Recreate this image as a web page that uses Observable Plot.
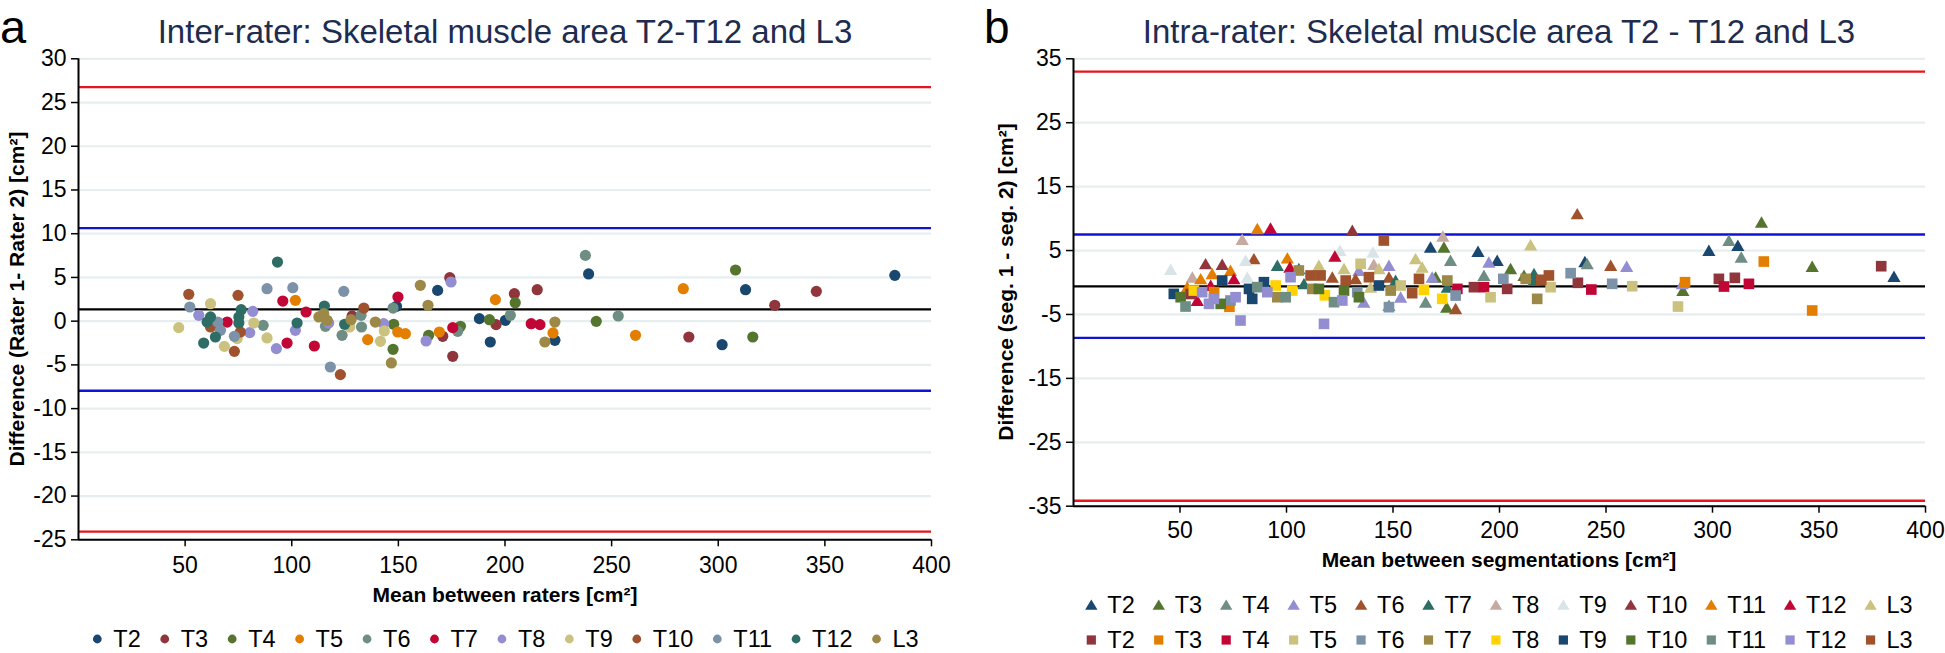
<!DOCTYPE html>
<html><head><meta charset="utf-8">
<script src="https://cdn.jsdelivr.net/npm/d3@7"></script>
<script src="https://cdn.jsdelivr.net/npm/@observablehq/plot@0.6"></script>
<style>
body{margin:0;background:#fff;}
#root{position:relative;width:1945px;height:653px;overflow:hidden;font-family:"Liberation Sans",Arial,Helvetica,sans-serif;}
#root > svg{position:absolute;}
</style></head><body><div id="root"></div>
<script>
// ---------- categories ----------
const levels = ["T2","T3","T4","T5","T6","T7","T8","T9","T10","T11","T12","L3"];
const circleColors   = ["#1a476f","#90353b","#55752f","#e37e00","#6e8e84","#c10534","#938dd2","#cac27e","#a0522d","#7b92a8","#2d6d66","#9c8847"];
const triangleColors = ["#1a476f","#55752f","#6e8e84","#938dd2","#a0522d","#2d6d66","#c6aaa2","#d9e4e9","#90353b","#e37e00","#c10534","#cac27e"];
const squareColors   = ["#90353b","#e37e00","#c10534","#cac27e","#7b92a8","#9c8847","#ffd200","#1a476f","#55752f","#6e8e84","#938dd2","#a0522d"];

// ---------- panel a: inter-rater (mean, difference) ----------
const interT2  = [[149.1,1.7],[168.4,3.52],[188.0,0.29],[193.1,-2.38],[200.2,0.1],[223.4,-2.19],[239.2,5.4],[301.8,-2.69],[312.8,3.6],[382.8,5.24]];
const interT3  = [[128.3,0.6],[170.8,-1.73],[174.1,4.97],[175.5,-4.02],[195.8,-0.4],[204.4,3.14],[215.1,3.6],[286.2,-1.81],[326.5,1.81],[346.0,3.41]];
const interT4  = [[147.8,-0.36],[147.5,-3.22],[164.2,-1.62],[179.1,-0.59],[192.7,0.17],[204.8,2.11],[242.8,-0.02],[308.1,5.85],[316.2,-1.81]];
const interT5  = [[101.7,2.38],[135.6,-2.11],[149.7,-1.24],[153.3,-1.43],[169.2,-1.24],[195.5,2.46],[222.5,-1.35],[261.2,-1.62],[283.6,3.71]];
const interT6  = [[86.6,-0.48],[115.8,-0.59],[123.6,-1.62],[132.5,0.67],[132.7,-0.67],[147.5,1.5],[177.8,-1.16],[202.5,0.67],[237.7,7.52],[253.1,0.59]];
const interT7  = [[69.7,-0.1],[95.8,2.3],[97.8,-2.5],[106.7,1.05],[110.6,-2.84],[149.8,2.76],[175.5,-0.74],[212.3,-0.29],[216.4,-0.4]];
const interT8  = [[56.4,0.67],[80.3,-1.31],[81.7,1.12],[92.8,-3.14],[101.7,-1.05],[117.3,-0.21],[143.1,-0.29],[163.0,-2.27],[174.7,4.48]];
const interT9  = [[47.0,-0.74],[61.9,2.0],[68.4,-2.88],[74.4,-2.0],[82.2,-0.21],[88.4,-1.92],[127.2,-0.67],[141.6,-2.3],[143.4,-1.12]];
const interT10 = [[51.7,3.07],[61.9,-0.67],[73.1,-3.45],[74.8,2.95],[75.9,-1.24],[122.8,-6.11],[133.8,1.5]];
const interT11 = [[52.2,1.62],[65.3,-0.1],[66.6,-1.05],[73.1,-1.73],[88.4,3.71],[100.5,3.83],[118.1,-5.24],[124.4,3.41]];
const interT12 = [[58.7,-2.5],[60.3,-0.1],[61.9,0.48],[64.2,-1.81],[75.2,0.48],[75.2,-0.21],[76.3,1.31],[93.3,6.76],[102.5,-0.21],[115.3,1.73],[124.8,-0.36]];
const interL3  = [[112.7,0.48],[115.0,0.86],[116.6,0.1],[127.8,0.17],[139.2,-0.1],[146.7,-4.78],[160.3,4.1],[163.9,1.81],[218.7,-2.38],[223.4,-0.1]];
const interSeries = [interT2,interT3,interT4,interT5,interT6,interT7,interT8,interT9,interT10,interT11,interT12,interL3];
const interBias = 1.34, interLoA = [10.64, -7.95], interOuter = [26.76, -24.07];
const interYTicks = [30,25,20,15,10,5,0,-5,-10,-15,-20,-25];

// ---------- panel b: intra-rater, triangles ----------
const triT2  = [[167.6,5.27],[189.9,4.59],[198.9,3.18],[240.1,3.0],[298.3,4.74],[311.9,5.53],[385.2,0.68]];
const triT3  = [[170.0,0.57],[173.9,5.27],[175.2,-4.12],[205.2,1.88],[211.5,0.83],[286.1,-1.51],[323.0,9.18],[346.8,2.24]];
const triT4  = [[148.1,-3.86],[165.3,-3.34],[177.0,3.18],[192.7,0.83],[241.2,2.66],[307.7,6.31],[313.5,3.7]];
const triT5  = [[134.0,1.62],[136.3,-3.34],[148.1,2.4],[153.6,-2.56],[168.4,0.57],[195.0,2.92],[259.7,2.24],[285.8,-0.47]];
const triT6  = [[84.7,3.44],[121.5,0.57],[132.4,0.31],[148.1,0.57],[179.4,-4.38],[236.5,10.48],[252.2,2.4]];
const triT7  = [[95.7,2.4],[105.8,1.88],[108.2,-0.47],[151.2,0.05],[175.5,-1.0],[216.2,1.1],[216.2,0.05]];
const triT8  = [[55.8,0.57],[79.2,6.47],[141.0,2.55],[173.4,6.99]];
const triT9  = [[45.6,1.77],[80.8,3.18],[81.6,0.57],[125.1,4.74],[140.6,4.48]];
const triT10 = [[62.0,2.66],[69.8,2.55],[130.9,7.87]];
const triT11 = [[53.4,-1.0],[59.7,0.31],[65.1,1.1],[73.7,1.62],[86.3,8.14],[100.4,3.55]];
const triT12 = [[58.1,-3.08],[64.4,-0.73],[75.3,0.31],[92.5,8.24],[101.6,2.14],[122.7,3.86]];
const triL3  = [[115.2,2.4],[127.0,1.88],[139.5,-1.0],[143.4,1.88],[160.6,3.44],[163.7,2.14],[214.6,5.6]];
const triSeries = [triT2,triT3,triT4,triT5,triT6,triT7,triT8,triT9,triT10,triT11,triT12,triL3];

// ---------- panel b: intra-rater, squares ----------
const sqT2  = [[55,-1.8],[188.0,-0.73],[203.6,-1.0],[236.8,-0.05],[303.0,0.57],[310.5,0.73],[379.2,2.55]];
const sqT3  = [[66,-1.5],[73.2,-3.8],[287.1,0.05],[324.1,3.28],[346.8,-4.38]];
const sqT4  = [[180.2,-1.0],[192.7,-0.73],[243.1,-1.1],[305.4,-0.63],[317.1,-0.21]];
const sqT5  = [[134.8,2.92],[153.6,-0.47],[195.8,-2.3],[224.0,-0.73],[262.3,-0.58],[283.8,-3.76]];
const sqT6  = [[73.7,-2.82],[133.2,-1.51],[148.1,-3.86],[179.4,-2.04],[201.8,0.57],[233.4,1.46],[252.9,-0.21]];
const sqT7  = [[95.7,-2.3],[105.8,1.88],[112.1,-1.0],[148.9,-1.26],[175.5,0.31],[212.3,0.57],[217.7,-2.56]];
const sqT8  = [[56.5,-1.26],[94.9,-0.47],[102.7,-1.26],[118,-2.0],[164.5,-1.15],[173.1,-2.56]];
const sqT9  = [[47.1,-1.78],[69.8,0.31],[82.4,-1.0],[83.9,-2.56],[89.4,0.05],[143.4,-0.47]];
const sqT10 = [[50.3,-2.3],[69.1,-3.34],[115.2,-1.0],[127.0,-1.26],[134.0,-2.3]];
const sqT11 = [[52.6,-3.76],[86.3,-0.73],[99.6,-2.3],[122.3,-3.08]];
const sqT12 = [[60.4,-1.51],[63.6,-3.34],[65.9,-2.56],[76.1,-2.3],[78.4,-5.95],[91.0,-1.51],[101.9,0.83],[117.6,-6.47],[126.2,-2.82]];
const sqL3  = [[111.3,1.1],[116.0,1.1],[127.8,0.31],[138.7,0.83],[145.7,6.57],[159.0,-1.67],[162.2,0.57],[219.6,0.42],[223.2,1.1]];
const sqSeries = [sqT2,sqT3,sqT4,sqT5,sqT6,sqT7,sqT8,sqT9,sqT10,sqT11,sqT12,sqL3];
const intraBias = -0.62, intraLoA = [7.5, -8.66], intraOuter = [33.0, -34.15];
const intraYTicks = [35,25,15,5,-5,-15,-25,-35];

const xTicks = [50,100,150,200,250,300,350,400];
const titleA = "Inter-rater: Skeletal muscle area T2-T12 and L3";
const titleB = "Intra-rater: Skeletal muscle area T2 - T12 and L3";
const yLabelA = "Difference (Rater 1- Rater 2) [cm²]";
const yLabelB = "Difference (seg. 1 - seg. 2) [cm²]";
const xLabelA = "Mean between raters [cm²]";
const xLabelB = "Mean between segmentations [cm²]";

// ---------- drawing ----------
const FONT = '"Liberation Sans", Arial, Helvetica, sans-serif';
const RED = "#e8141c", BLUE = "#1212d6", GRID = "#e7eef0";
const fmt = d => String(d);

function panel({width, height, mt, mb, ml, mr, yDomain, yTicks, bias, loa, outer, tickPadX, dataMarks}) {
  return Plot.plot({
    width, height, marginTop: mt, marginBottom: mb, marginLeft: ml, marginRight: mr,
    style: {fontFamily: FONT, fontSize: "23px", color: "#000", background: "transparent", overflow: "visible"},
    x: {domain: [0, 400]},
    y: {domain: yDomain},
    marks: [
      Plot.gridY(yTicks, {stroke: GRID, strokeOpacity: 1, strokeWidth: 2.2}),
      Plot.ruleY([outer[0]], {stroke: RED, strokeWidth: 2.4}),
      Plot.ruleY([outer[1]], {stroke: RED, strokeWidth: 2.4}),
      Plot.ruleY([loa[0]], {stroke: BLUE, strokeWidth: 2.4}),
      Plot.ruleY([loa[1]], {stroke: BLUE, strokeWidth: 2.4}),
      Plot.ruleY([bias], {stroke: "#000", strokeWidth: 2.2}),
      ...dataMarks,
      Plot.ruleX([0], {stroke: "#000", strokeWidth: 2}),
      Plot.ruleY([yDomain[0]], {stroke: "#000", strokeWidth: 2}),
      Plot.axisY(yTicks, {anchor: "left", tickSize: 7, tickPadding: 5, strokeWidth: 1.5, label: null, fontSize: 23, tickFormat: fmt}),
      Plot.axisX(xTicks, {anchor: "bottom", tickSize: 7, tickPadding: tickPadX, strokeWidth: 1.5, label: null, fontSize: 23, tickFormat: fmt})
    ]
  });
}

const root = document.getElementById("root");

const marksA = interSeries.map((s, i) =>
  Plot.dot(s, {x: d => d[0], y: d => d[1], r: 5.6, fill: circleColors[i], stroke: "none"}));
const svgA = panel({width: 972, height: 580, mt: 58.3, mb: 580 - 539.3, ml: 78, mr: 972 - 931,
  yDomain: [-25, 30], yTicks: interYTicks, bias: interBias, loa: interLoA, outer: interOuter, tickPadX: 10, dataMarks: marksA});
svgA.style.left = "0px"; svgA.style.top = "0px";
root.appendChild(svgA);

const marksB = [
  ...triSeries.map((s, i) => Plot.dot(s, {x: d => d[0], y: d => d[1], r: 4.9, symbol: "triangle", fill: triangleColors[i], stroke: "none"})),
  ...sqSeries.map((s, i) => Plot.dot(s, {x: d => d[0], y: d => d[1], r: 6, symbol: "square", fill: squareColors[i], stroke: "none"}))
];
const svgB = panel({width: 965, height: 545, mt: 58.3, mb: 545 - 505.7, ml: 93, mr: 20,
  yDomain: [-35, 35], yTicks: intraYTicks, bias: intraBias, loa: intraLoA, outer: intraOuter, tickPadX: 8, dataMarks: marksB});
svgB.style.left = "980px"; svgB.style.top = "0px";
root.appendChild(svgB);

// ---------- titles, axis titles, legends ----------
const ov = d3.select(root).append("svg").attr("width", 1945).attr("height", 653)
  .style("left", "0px").style("top", "0px").style("font-family", FONT);

ov.append("text").attr("x", 0).attr("y", 43).style("font-size", "47px").text("a");
ov.append("text").attr("x", 984).attr("y", 43).style("font-size", "46px").text("b");
ov.append("text").attr("x", 505).attr("y", 43).attr("text-anchor", "middle").style("font-size", "33px").attr("fill", "#1e2c50").text(titleA);
ov.append("text").attr("x", 1499).attr("y", 43).attr("text-anchor", "middle").style("font-size", "33px").attr("fill", "#1e2c50").text(titleB);

ov.append("text").attr("transform", "translate(17,299) rotate(-90)").attr("text-anchor", "middle").attr("dy", "0.35em")
  .style("font-size", "21px").style("font-weight", "bold").text(yLabelA);
ov.append("text").attr("transform", "translate(1006,282) rotate(-90)").attr("text-anchor", "middle").attr("dy", "0.35em")
  .style("font-size", "21px").style("font-weight", "bold").text(yLabelB);
ov.append("text").attr("x", 505).attr("y", 602).attr("text-anchor", "middle").style("font-size", "21px").style("font-weight", "bold").text(xLabelA);
ov.append("text").attr("x", 1499).attr("y", 567).attr("text-anchor", "middle").style("font-size", "21px").style("font-weight", "bold").text(xLabelB);

function drawMarker(g, shape, color, x, y) {
  if (shape === "circle") g.append("circle").attr("cx", x).attr("cy", y).attr("r", 4.4).attr("fill", color);
  else if (shape === "triangle") g.append("path").attr("d", `M${x-6.2},${y+4.8}L${x+6.2},${y+4.8}L${x},${y-5.6}Z`).attr("fill", color);
  else g.append("rect").attr("x", x - 4.6).attr("y", y - 4.6).attr("width", 9.2).attr("height", 9.2).attr("fill", color);
}
function legendRow(labels, colors, shape, cx, cy) {
  const g = ov.append("g");
  let x = 0;
  labels.forEach((lab, i) => {
    const t = g.append("text").attr("x", x + 16).attr("y", cy).attr("dy", "0.36em").style("font-size", "23.5px").text(lab);
    const w = t.node().getComputedTextLength();
    drawMarker(g, shape, colors[i], x, cy);
    x = x + 16 + w + 24;
  });
  const total = (x - 24) + 6;
  g.attr("transform", `translate(${cx - total / 2 + 6},0)`);
}
legendRow(levels, circleColors, "circle", 505, 639);
legendRow(levels, triangleColors, "triangle", 1499, 605);
legendRow(levels, squareColors, "square", 1499, 640);
</script></body></html>
